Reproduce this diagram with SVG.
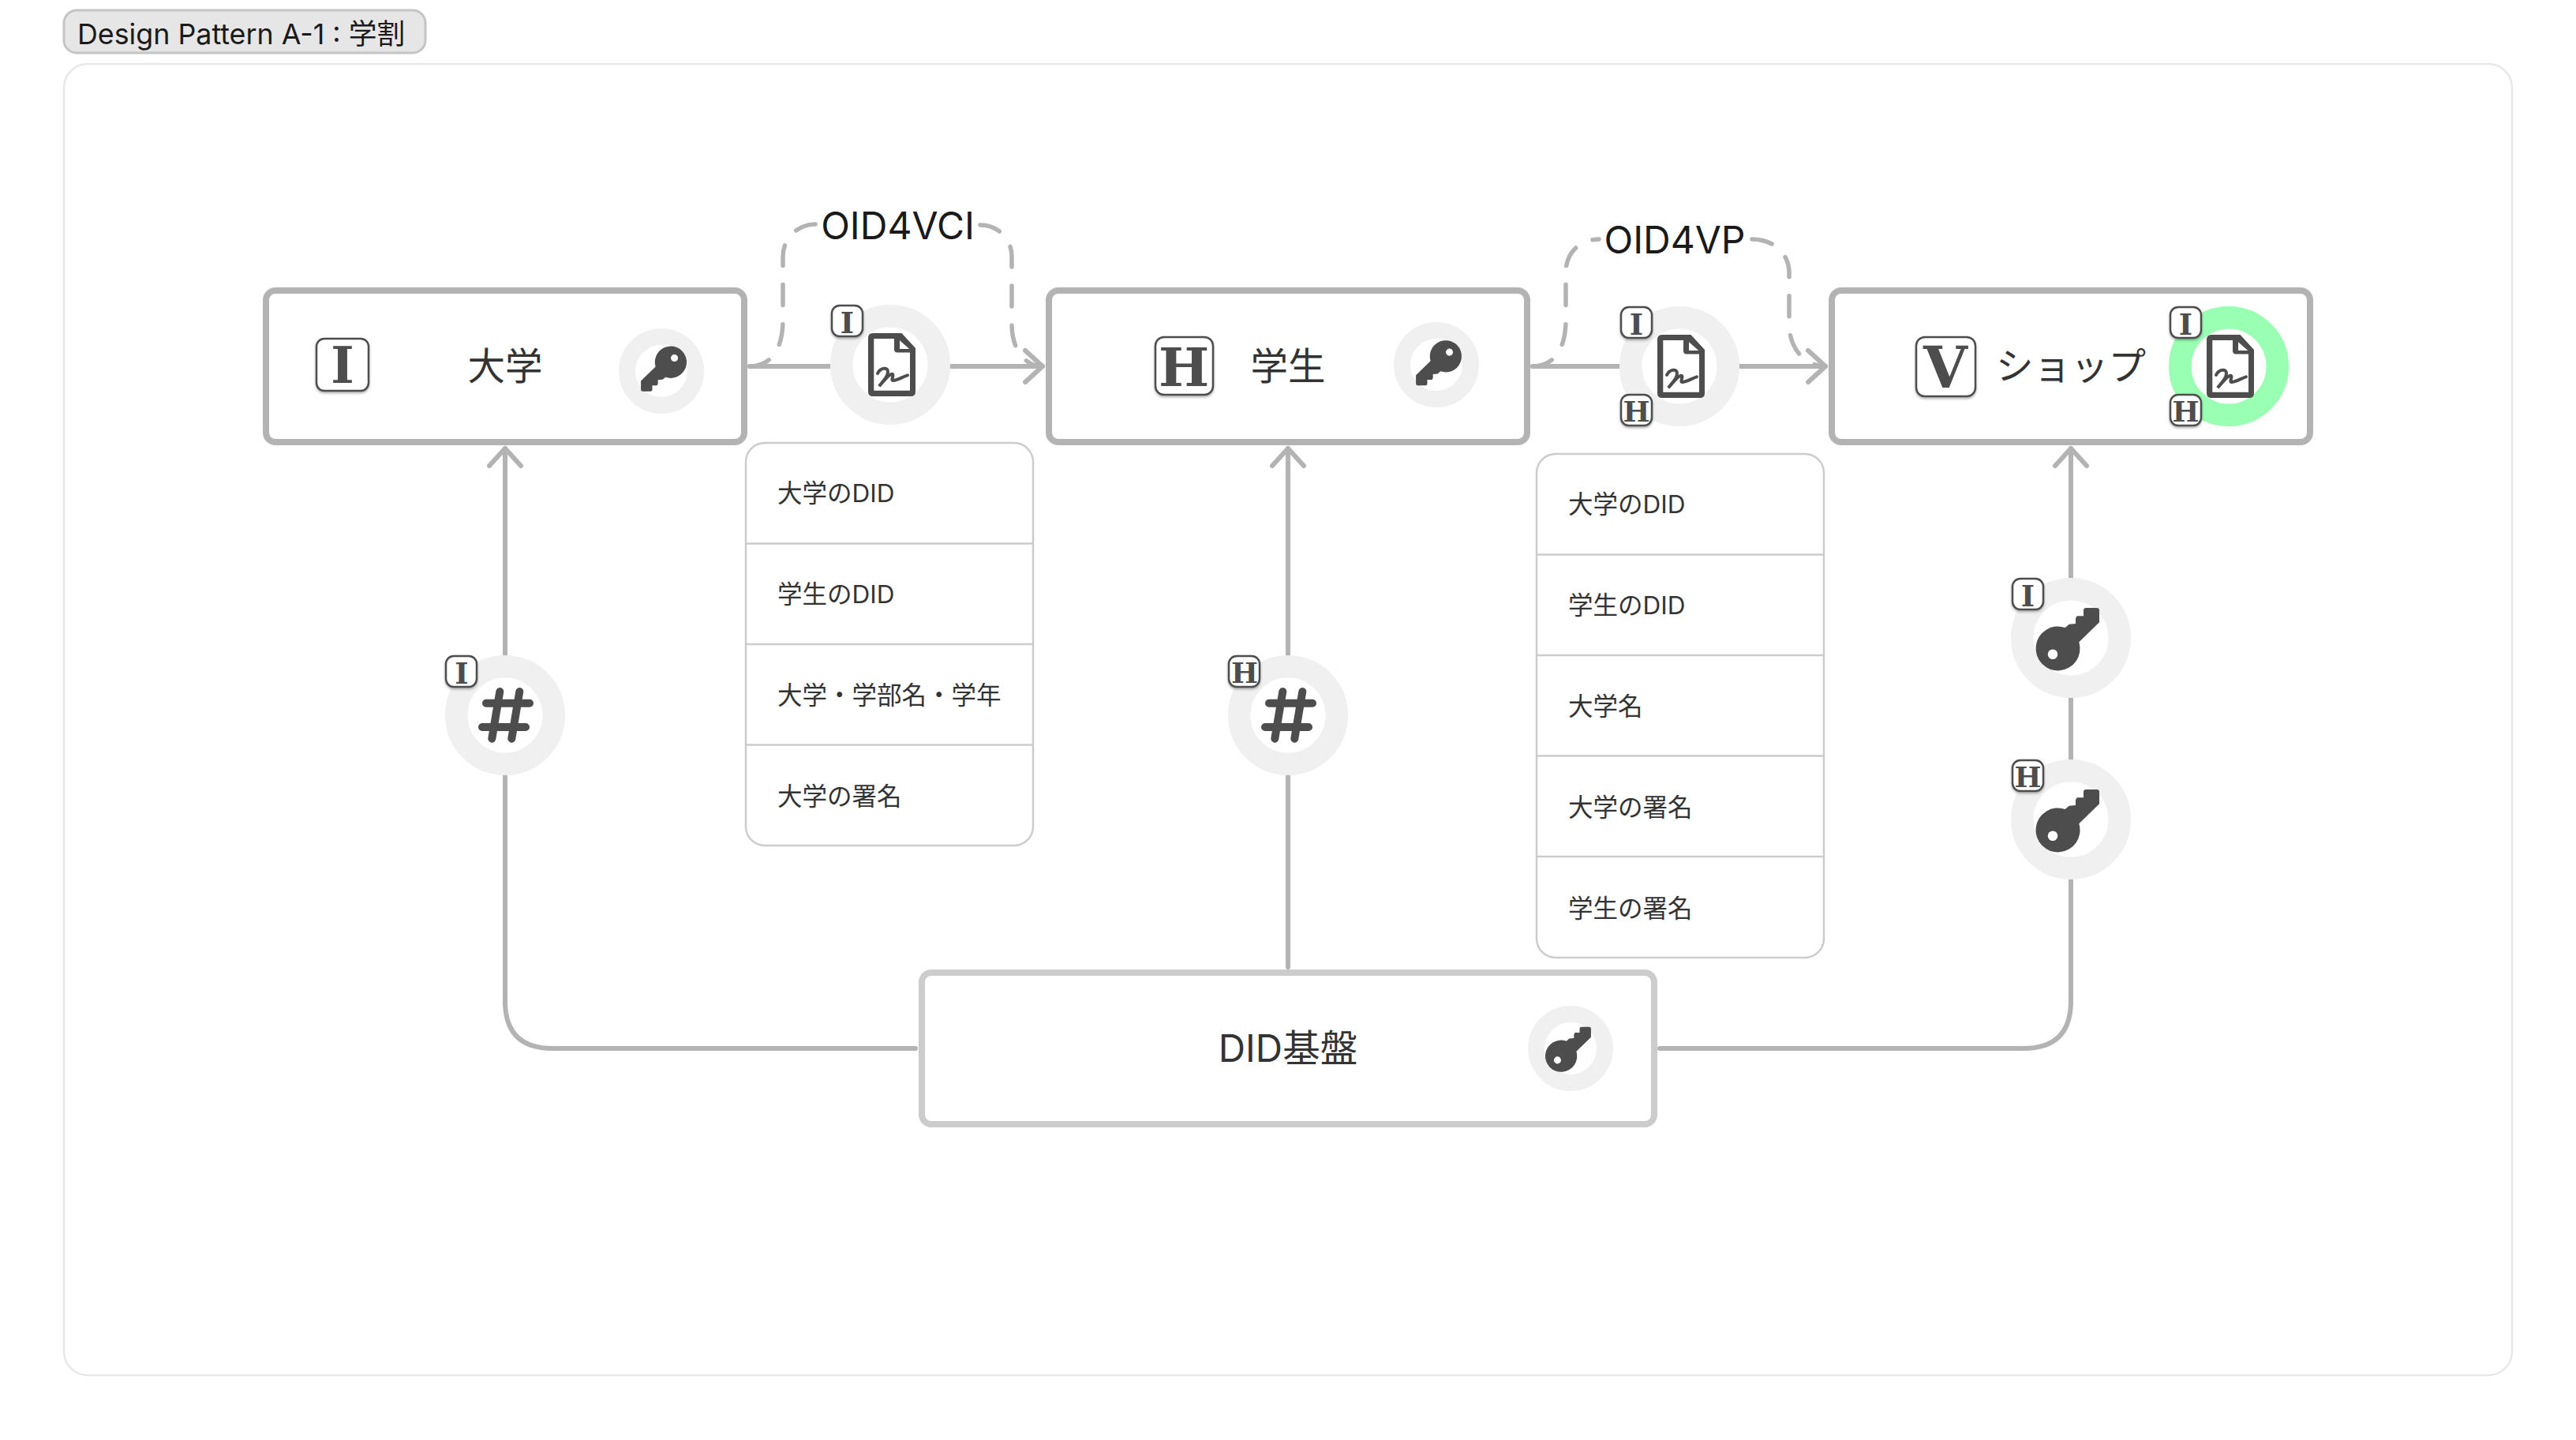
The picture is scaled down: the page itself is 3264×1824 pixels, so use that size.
<svg xmlns="http://www.w3.org/2000/svg" width="3264" height="1824" viewBox="0 0 3264 1824">
<style>
text{font-family:Inter,"Noto Sans CJK JP",sans-serif;fill:#333}
.node{fill:#fff;stroke:#b3b3b3;stroke-width:8}
.did{stroke:#ccc}
.lbl{font-size:47.5px;text-anchor:middle}
.proto{font-size:48px;text-anchor:middle;fill:#1a1a1a}
.conn{fill:none;stroke:#b3b3b3;stroke-width:6;stroke-linecap:round}
.arrow{marker-end:url(#open)}
.dash{stroke-width:5.5;stroke-dasharray:26 24}
.ring{fill:#fff;stroke:#f0f0f0;stroke-width:28.5}
.ring2{fill:#fff;stroke:#f0f0f0;stroke-width:21}
.green{stroke:#99ffb3}
.ico{fill:#4d4d4d}
.bs{fill:#fff;stroke:#4d4d4d;stroke-width:2.5;filter:url(#sh)}
.bl{font-family:"DejaVu Serif",serif;font-weight:700;fill:#4d4d4d;text-anchor:middle}
.list{fill:#fff;stroke:#ccc;stroke-width:2.5}
.rule{stroke:#ccc;stroke-width:2.5}
.item{font-size:31.5px}
</style>
<defs>
<filter id="sh" x="-20%" y="-20%" width="140%" height="140%"><feDropShadow dx="0" dy="2" stdDeviation="1.5" flood-color="#000" flood-opacity=".3"/></filter>
<marker id="open" markerUnits="userSpaceOnUse" markerWidth="60" markerHeight="60" refX="40" refY="30" orient="auto"><path d="M18,10 L40,30 L18,50" fill="none" stroke="#b3b3b3" stroke-width="6" stroke-linecap="round" stroke-linejoin="round"/></marker>
<path id="key" class="ico" fill-rule="evenodd" d="M-7.3,-13 L-2.3,-17.3 L6,-18 L6,-24.7 L7.7,-27.7 L16,-27.7 L16,-34.7 Q16,-38 19.3,-38 L32.7,-38 Q36,-38 36,-34.7 L36,-19.7 L10.3,5.3 A28,28 0 1 1 -7.3,-13 Z M-29.3,20.7 a6.3,6.3 0 1 0 12.6,0 a6.3,6.3 0 1 0 -12.6,0 Z"/>
<g id="doc">
<path class="ico" fill-rule="evenodd" d="M-22,-40 H14.5 L32,-21 V34 Q32,40 26,40 H-22 Q-28,40 -28,34 V-34 Q-28,-40 -22,-40 Z M-20.7,-33 V32.7 H25 V-15.5 H9 Q5,-15.5 5,-19.5 V-33 Z M12,-30.7 V-20 H24.3 Z"/>
<path d="M-16,11 C-13,4 -3,2 -3,9 C-3,16 -12,24 -14,27 C-9,22 -2,12 2,11.7 C6,12 0,20 3.5,20 C9,20 16,15 22,13.3" fill="none" stroke="#4d4d4d" stroke-width="4" stroke-linecap="round"/>
</g>
<g id="hash" fill="none" stroke="#4d4d4d" stroke-width="10" stroke-linecap="round">
<path d="M-24,-15.3 H31 M-29,15 H26 M-6.7,-30 L-16.7,29.7 M18.3,-30 L8.3,29.7"/>
</g>
</defs>
<rect id="page" width="3264" height="1824" fill="#fff"/>
<g id="title"><rect x="81" y="13" width="458" height="54" rx="16" fill="#e6e6e6" stroke="#c4c4c4" stroke-width="3"/><text x="98" y="56" font-size="35.8" style="fill:#1a1a1a">Design Pattern A-1 : 学割</text></g>
<rect id="frame" x="81" y="81" width="3102" height="1661" rx="30" fill="#fff" stroke="#e8e8e8" stroke-width="2.5"/>

<g id="connectors">
<path class="conn arrow" d="M950,464 H1321"/>
<path class="conn arrow" d="M1942,464 H2313"/>
<path class="conn dash" d="M950,464 C975,464 992,445 992,405 V325 C992,302 1010,284 1034,284"/>
<path class="conn dash" d="M1242,285 C1265,285 1282,303 1282,325 V410 C1282,445 1300,464 1321,464"/>
<path class="conn dash" d="M1942,464 C1967,464 1984,445 1984,405 V345 C1984,320 2002,303 2026,303"/>
<path class="conn dash" d="M2220,303 C2248,303 2267,322 2267,345 V410 C2267,445 2290,464 2313,464"/>
<path class="conn arrow" d="M1160,1328 H700 Q640,1328 640,1268 V568"/>
<path class="conn arrow" d="M1632,1225 V568"/>
<path class="conn arrow" d="M2103,1328 H2564 Q2624,1328 2624,1268 V568"/>
</g>

<g id="oid4vci"><text class="proto" x="1137.5" y="303">OID4VCI</text></g>
<g id="oid4vp"><text class="proto" x="2122" y="321">OID4VP</text></g>

<g id="issuer">
<rect class="node" x="337" y="368" width="606" height="192" rx="12"/>
<rect class="bs" x="401" y="429" width="66" height="66" rx="10"/><text class="bl" x="434" y="485" font-size="63">I</text>
<text class="lbl" x="640" y="481">大学</text>
<circle class="ring2" cx="838" cy="470" r="43.5"/><use href="#key" transform="translate(838,468.4) rotate(180) scale(.72)"/>
</g>
<g id="holder">
<rect class="node" x="1329" y="368" width="606" height="192" rx="12"/>
<rect class="bs" x="1464" y="427" width="73" height="73" rx="11"/><text class="bl" x="1500" y="489" font-size="68">H</text>
<text class="lbl" x="1632" y="481">学生</text>
<circle class="ring2" cx="1820" cy="462" r="43.5"/><use href="#key" transform="translate(1820,461) rotate(180) scale(.72)"/>
</g>
<g id="verifier">
<rect class="node" x="2321" y="368" width="606" height="192" rx="12"/>
<rect class="bs" x="2428" y="427" width="75" height="75" rx="11"/><text class="bl" x="2465" y="491" font-size="72">V</text>
<text class="lbl" x="2624" y="481">ショップ</text>
<circle class="ring green" cx="2824" cy="464" r="61.75"/><use href="#doc" x="2824" y="464"/>
<rect class="bs" x="2750" y="389" width="39" height="39" rx="10"/><text class="bl" x="2769.5" y="424" font-size="37">I</text>
<rect class="bs" x="2750" y="500" width="39" height="39" rx="10"/><text class="bl" x="2769.5" y="534" font-size="36">H</text>
</g>
<g id="did-base">
<rect class="node did" x="1168" y="1232" width="928" height="192" rx="12"/>
<text class="lbl" x="1632" y="1345">DID基盤</text>
<circle class="ring2" cx="1990" cy="1328" r="43.5"/><use href="#key" transform="translate(1990,1328) scale(.72)"/>
</g>
<g id="vc">
<circle class="ring" cx="1128" cy="462" r="61.75"/><use href="#doc" x="1128" y="462"/>
<rect class="bs" x="1054" y="387" width="39" height="39" rx="10"/><text class="bl" x="1073.5" y="422" font-size="37">I</text>
</g>
<g id="vp">
<circle class="ring" cx="2128" cy="464" r="61.75"/><use href="#doc" x="2128" y="464"/>
<rect class="bs" x="2054" y="389" width="39" height="39" rx="10"/><text class="bl" x="2073.5" y="424" font-size="37">I</text>
<rect class="bs" x="2054" y="500" width="39" height="39" rx="10"/><text class="bl" x="2073.5" y="534" font-size="36">H</text>
</g>
<g id="hash-issuer">
<circle class="ring" cx="640" cy="906" r="61.75"/><use href="#hash" x="640" y="906"/>
<rect class="bs" x="565" y="831" width="39" height="39" rx="10"/><text class="bl" x="585" y="866" font-size="37">I</text>
</g>
<g id="hash-holder">
<circle class="ring" cx="1632" cy="906" r="61.75"/><use href="#hash" x="1632" y="906"/>
<rect class="bs" x="1557" y="831" width="39" height="39" rx="10"/><text class="bl" x="1577" y="865" font-size="36">H</text>
</g>
<g id="key-issuer">
<circle class="ring" cx="2624" cy="808" r="61.75"/><use href="#key" x="2624" y="808"/>
<rect class="bs" x="2550" y="733" width="39" height="39" rx="10"/><text class="bl" x="2569.5" y="768" font-size="37">I</text>
</g>
<g id="key-holder">
<circle class="ring" cx="2624" cy="1038" r="61.75"/><use href="#key" x="2624" y="1038"/>
<rect class="bs" x="2550" y="963" width="39" height="39" rx="10"/><text class="bl" x="2569.5" y="997" font-size="36">H</text>
</g>

<g id="vc-claims">
<rect class="list" x="945" y="561" width="364" height="510" rx="24"/>
<path class="rule" d="M945,688.5 H1309 M945,816 H1309 M945,943.5 H1309"/>
<text class="item" x="985" y="636">大学のDID</text>
<text class="item" x="985" y="764">学生のDID</text>
<text class="item" x="985" y="892">大学・学部名・学年</text>
<text class="item" x="985" y="1020">大学の署名</text>
</g>
<g id="vp-claims">
<rect class="list" x="1947" y="575" width="364" height="638" rx="24"/>
<path class="rule" d="M1947,702.5 H2311 M1947,830 H2311 M1947,957.5 H2311 M1947,1085 H2311"/>
<text class="item" x="1987" y="650">大学のDID</text>
<text class="item" x="1987" y="778">学生のDID</text>
<text class="item" x="1987" y="906">大学名</text>
<text class="item" x="1987" y="1034">大学の署名</text>
<text class="item" x="1987" y="1162">学生の署名</text>
</g>
</svg>
